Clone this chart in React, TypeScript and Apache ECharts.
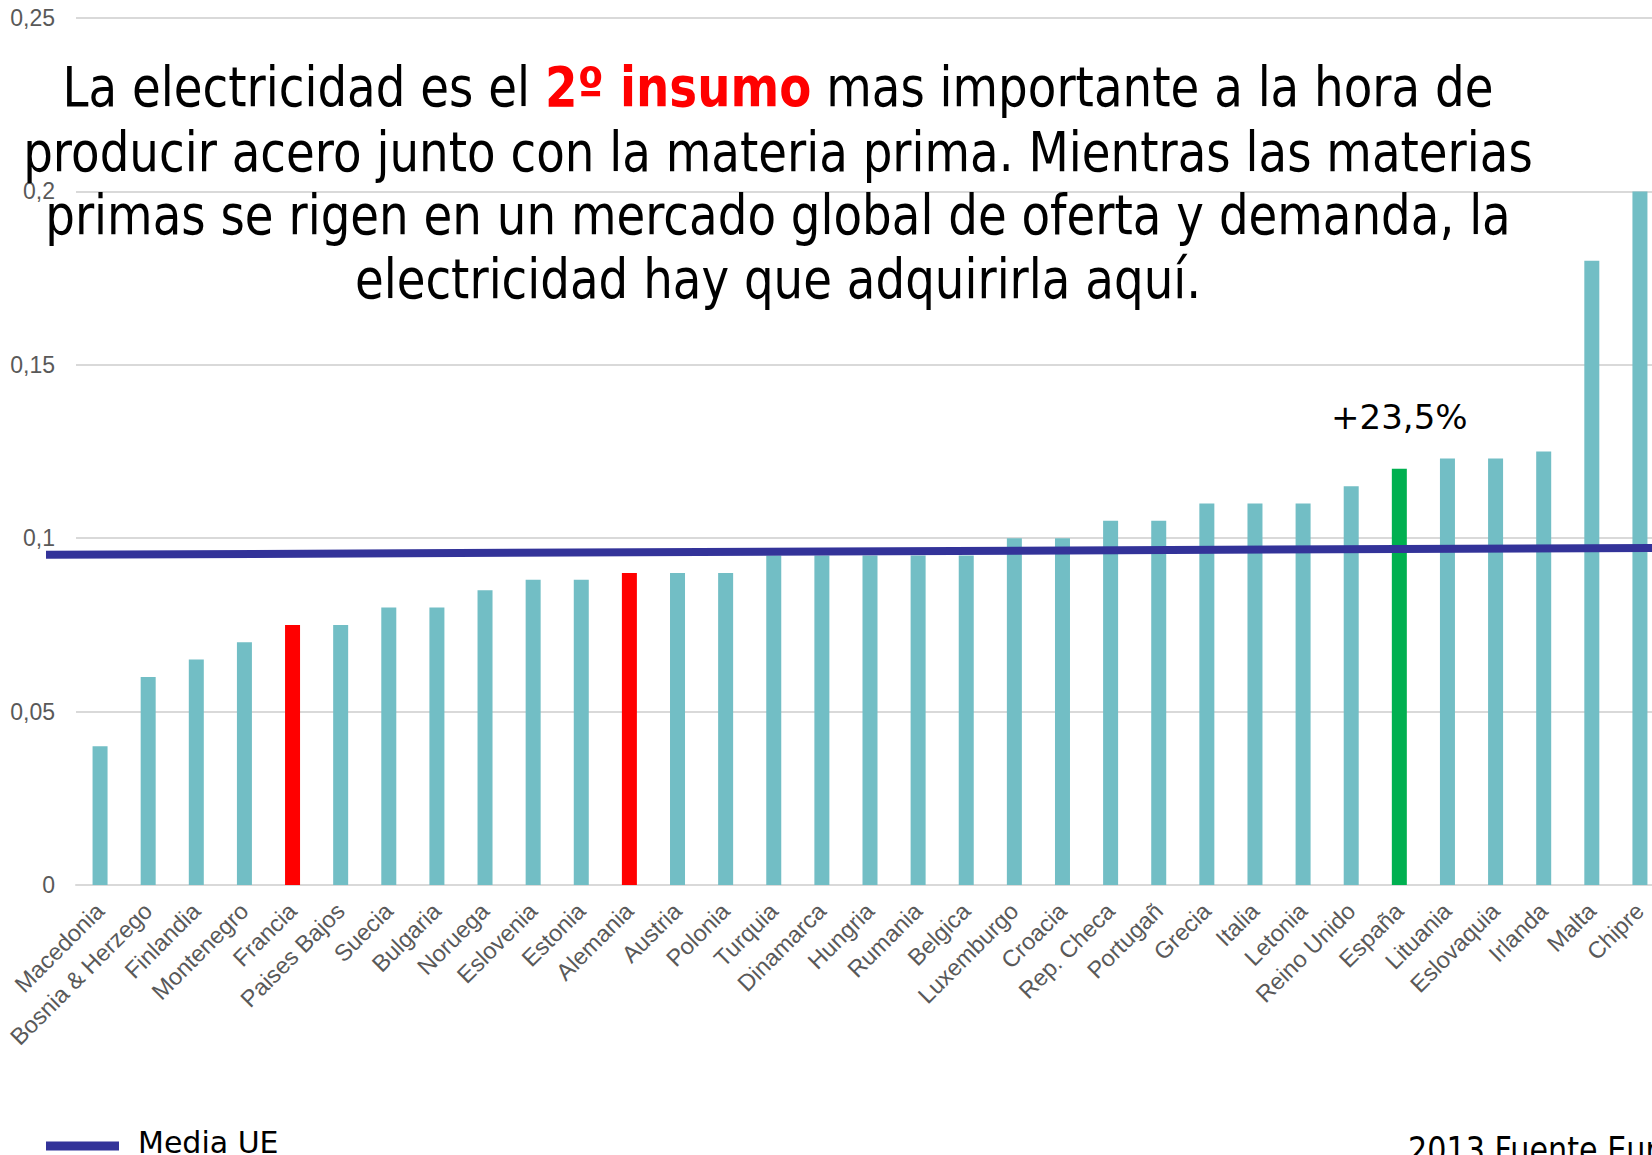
import React, { useEffect, useRef } from "react";
import * as echarts from "echarts";

const categories = [
  "Macedonia", "Bosnia & Herzego", "Finlandia", "Montenegro", "Francia", "Paises Bajos",
  "Suecia", "Bulgaria", "Noruega", "Eslovenia", "Estonia", "Alemania", "Austria", "Polonia",
  "Turquia", "Dinamarca", "Hungria", "Rumania", "Belgica", "Luxemburgo", "Croacia",
  "Rep. Checa", "Portugañ", "Grecia", "Italia", "Letonia", "Reino Unido", "España",
  "Lituania", "Eslovaquia", "Irlanda", "Malta", "Chipre",
];
const values = [
  0.04, 0.06, 0.065, 0.07, 0.075, 0.075, 0.08, 0.08, 0.085, 0.088, 0.088, 0.09, 0.09, 0.09,
  0.095, 0.095, 0.095, 0.095, 0.095, 0.1, 0.1, 0.105, 0.105, 0.11, 0.11, 0.11, 0.115, 0.12,
  0.123, 0.123, 0.125, 0.18, 0.2,
];
const redCountries = ["Francia", "Alemania"];
const greenCountries = ["España"];
const highlightLabel = { country: "España", text: "+23,5%" };
// EU average line, value at its left and right ends
const meanName = "Media UE";
const meanLine = [0.0952, 0.0972];
const yMin = 0;
const yMax = 0.25;
const yInterval = 0.05;

const titleLine1 = ["La electricidad es el ", "2º insumo", " mas importante a la hora de"];
const titleLines = [
  "producir acero junto con la materia prima. Mientras las materias",
  "primas se rigen en un mercado global de oferta y demanda, la",
  "electricidad hay que adquirirla aquí.",
];
const sourceText = "2013 Fuente Eurostat";

const TEAL = "#72BEC5";
const RED = "#FF0000";
const GREEN = "#00B050";
const NAVY = "#333399";

export default function App() {
  const ref = useRef<HTMLDivElement>(null);
  useEffect(() => {
    if (!ref.current) return;
    const chart = echarts.init(ref.current, undefined, { renderer: "svg" });
    const titleFont = 55;
    const titleScale = 0.85;
    const cx = 778;
    const option: any = {
      animation: false,
      backgroundColor: "#ffffff",
      grid: [
        { left: 76, top: 18, width: 1588, bottom: 270, outerBoundsMode: "none" },
        { left: 46, right: 0, top: 18, bottom: 270, outerBoundsMode: "none" },
      ],
      legend: {
        data: [{ name: meanName, icon: "rect" }],
        left: 46,
        top: 1127,
        padding: 0,
        itemWidth: 73,
        itemHeight: 9,
        formatter: "{a|{name}}",
        textStyle: {
          fontFamily: "DejaVu Sans",
          fontSize: 30,
          color: "#000",
          padding: [0, 0, 0, 14],
          rich: {
            a: {
              fontFamily: "DejaVu Sans",
              fontSize: 30,
              color: "#000",
              padding: [0, 0, 8, 0],
            },
          },
        },
      },
      xAxis: [
        {
          type: "category",
          gridIndex: 0,
          data: categories,
          axisLine: { lineStyle: { color: "#d9d9d9", width: 2 } },
          axisTick: { show: false },
          axisLabel: {
            rotate: 45,
            interval: 0,
            fontSize: 23.5,
            color: "#595959",
            fontFamily: "Liberation Sans, Arial, sans-serif",
            margin: 22,
          },
        },
        { type: "value", gridIndex: 1, min: 0, max: 1, show: false },
      ],
      yAxis: [
        {
          type: "value",
          gridIndex: 0,
          min: yMin,
          max: yMax,
          interval: yInterval,
          axisLine: { show: false },
          axisTick: { show: false },
          splitLine: { lineStyle: { color: "#d9d9d9", width: 2 } },
          axisLabel: {
            formatter: (v: number) => String(+v.toFixed(2)).replace(".", ","),
            fontSize: 23,
            color: "#595959",
            fontFamily: "Liberation Sans, Arial, sans-serif",
            margin: 21,
          },
        },
        { type: "value", gridIndex: 1, min: yMin, max: yMax, show: false },
      ],
      series: [
        {
          type: "bar",
          name: "Precio",
          xAxisIndex: 0,
          yAxisIndex: 0,
          barWidth: 15,
          data: values.map((v, i) => {
            const c = categories[i];
            const color = redCountries.includes(c) ? RED : greenCountries.includes(c) ? GREEN : TEAL;
            const item: any = { value: v, itemStyle: { color } };
            if (c === highlightLabel.country) {
              item.label = {
                show: true,
                position: "top",
                distance: 35,
                formatter: highlightLabel.text,
                fontFamily: "DejaVu Sans",
                fontSize: 34,
                color: "#000",
              };
            }
            return item;
          }),
          z: 2,
        },
        {
          type: "line",
          name: meanName,
          xAxisIndex: 1,
          yAxisIndex: 1,
          data: [
            [0, meanLine[0]],
            [1, meanLine[1]],
          ],
          showSymbol: false,
          symbol: "none",
          itemStyle: { color: NAVY },
          lineStyle: { color: NAVY, width: 8 },
          z: 5,
        },
      ],
      graphic: [
        {
          type: "text",
          x: cx,
          y: 87,
          scaleX: titleScale,
          z: 10,
          style: {
            text: `{n|${titleLine1[0]}}{b|${titleLine1[1]}}{n|${titleLine1[2]}}`,
            align: "center",
            verticalAlign: "middle",
            rich: {
              n: { fontFamily: "DejaVu Sans", fontSize: titleFont, fill: "#000" },
              b: { fontFamily: "DejaVu Sans", fontSize: titleFont, fontWeight: "bold", fill: RED },
            },
          },
        },
        ...titleLines.map((t, i) => ({
          type: "text",
          x: cx,
          y: 152 + i * 63.5,
          scaleX: titleScale,
          z: 10,
          style: {
            text: t,
            align: "center",
            verticalAlign: "middle",
            fontFamily: "DejaVu Sans",
            fontSize: titleFont,
            fill: "#000",
          },
        })),
        {
          type: "text",
          x: 1408,
          y: 1150,
          scaleX: 0.84,
          z: 10,
          style: {
            text: sourceText,
            align: "left",
            verticalAlign: "middle",
            fontFamily: "DejaVu Sans",
            fontSize: 36,
            fill: "#000",
          },
        },
      ],
    };
    chart.setOption(option);
    return () => chart.dispose();
  }, []);
  return (
    <div
      ref={ref}
      style={{ position: "absolute", left: 0, top: 0, width: 1652, height: 1155 }}
    />
  );
}
